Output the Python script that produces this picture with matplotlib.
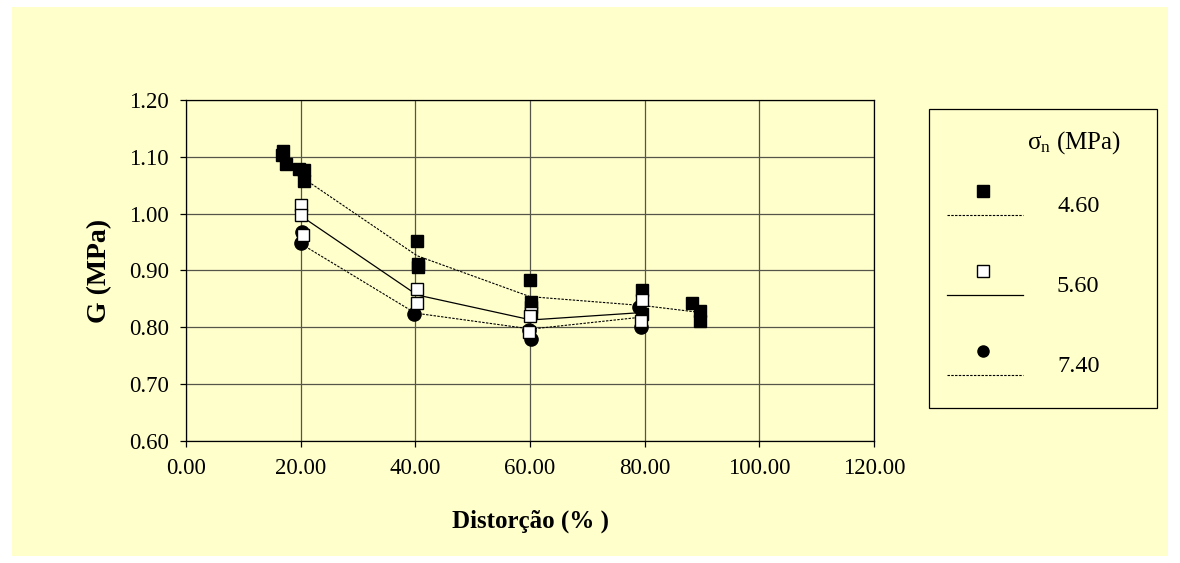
import matplotlib
matplotlib.use("Agg")
import matplotlib.pyplot as plt
from matplotlib.patches import Rectangle
from matplotlib.lines import Line2D

plt.rcParams['font.family'] = ['Liberation Serif', 'DejaVu Serif']
plt.rcParams['mathtext.fontset'] = 'custom'
plt.rcParams['mathtext.rm'] = 'Liberation Serif'

BG = '#FFFFCC'
GRID = '#55554a'

# G (MPa) x distorcao (%) per normal stress
dist_460 = [16.7, 16.9, 17.4, 19.7, 20.6, 20.6, 40.3, 40.4, 40.5, 60.0, 60.1, 60.2, 79.5, 79.6, 88.2, 89.6, 89.6]
g_460 = [1.103, 1.110, 1.087, 1.079, 1.077, 1.057, 0.952, 0.912, 0.906, 0.884, 0.845, 0.836, 0.865, 0.824, 0.842, 0.828, 0.812]

dist_560 = [20.0, 20.0, 20.4, 40.3, 40.3, 60.1, 60.0, 59.9, 79.5, 79.3]
g_560 = [1.015, 0.998, 0.962, 0.867, 0.842, 0.825, 0.820, 0.792, 0.848, 0.812]

dist_740 = [20.3, 20.0, 39.7, 59.8, 60.1, 79.0, 79.3]
g_740 = [0.968, 0.948, 0.823, 0.795, 0.780, 0.835, 0.801]

# mean curves
curve_x_460 = [17.3, 20.5, 40.3, 60.0, 80.0, 89.0]
curve_g_460 = [1.100, 1.062, 0.926, 0.854, 0.838, 0.827]
curve_x_560 = [20.2, 40.3, 60.2, 79.5]
curve_g_560 = [0.995, 0.857, 0.813, 0.826]
curve_x_740 = [20.2, 40.0, 60.2, 79.5]
curve_g_740 = [0.946, 0.825, 0.797, 0.818]

sigma_labels = ['4.60', '5.60', '7.40']

W, H = 1180, 563
fig = plt.figure(figsize=(W / 100, H / 100), dpi=100)
fig.patch.set_facecolor('white')
fig.patches.append(Rectangle((12 / W, 1 - 556 / H), 1156 / W, 549 / H,
                             transform=fig.transFigure, facecolor=BG,
                             edgecolor='none', zorder=-10))

ax = fig.add_axes([186 / W, 1 - 441 / H, 688 / W, 341 / H])
ax.set_facecolor(BG)

dash = (0, (2.2, 1.2))
ax.plot(curve_x_460, curve_g_460, color='black', lw=0.8, linestyle=dash, zorder=3)
ax.plot(curve_x_560, curve_g_560, color='black', lw=0.9, linestyle='-', zorder=3)
ax.plot(curve_x_740, curve_g_740, color='black', lw=0.8, linestyle=dash, zorder=3)

ax.plot(dist_460, g_460, 's', color='black', ms=9, mec='black', zorder=4)
ax.plot(dist_740, g_740, 'o', color='black', ms=9.5, mec='black', zorder=5)
ax.plot(dist_560, g_560, 's', mfc='white', ms=9, mec='black', mew=1.0, zorder=6)

ax.set_xlim(0, 120)
ax.set_ylim(0.60, 1.20)
ax.set_xticks(range(0, 121, 20))
ax.set_yticks([0.6, 0.7, 0.8, 0.9, 1.0, 1.1, 1.2])
ax.set_xticklabels([f'{v:.2f}' for v in range(0, 121, 20)])
ax.set_yticklabels([f'{v:.2f}' for v in [0.6, 0.7, 0.8, 0.9, 1.0, 1.1, 1.2]])
ax.grid(True, color=GRID, lw=0.9)
ax.set_axisbelow(True)
for s in ax.spines.values():
    s.set_color('black')
    s.set_linewidth(0.9)
ax.tick_params(axis='both', direction='out', length=4.5, width=0.9, labelsize=16.5)
ax.tick_params(axis='x', pad=8)
ax.tick_params(axis='y', pad=8)

ax.set_xlabel('Distorção (% )', fontsize=18, fontweight='bold')
ax.set_ylabel('G (MPa)', fontsize=20, fontweight='bold')
ax.xaxis.set_label_coords(0.5, -0.2)
ax.yaxis.set_label_coords(-0.107, 0.5)

# legend panel
fig.patches.append(Rectangle((929 / W, 1 - 408 / H), 228 / W, 299 / H,
                             transform=fig.transFigure, facecolor=BG,
                             edgecolor='black', lw=0.9))
fig.text(1027 / W, 1 - 143 / H, r'$\mathregular{σ_n}$ (MPa)', fontsize=18,
         ha='left', va='center')

styles = [
    dict(marker='s', mfc='black', mec='black', ls=dash, lw=0.8),
    dict(marker='s', mfc='white', mec='black', ls='-', lw=0.9),
    dict(marker='o', mfc='black', mec='black', ls=dash, lw=0.8),
]
for i, (lab, st) in enumerate(zip(sigma_labels, styles)):
    y0 = 191 + 80 * i
    fig.add_artist(Line2D([983 / W], [1 - y0 / H], marker=st['marker'],
                          mfc=st['mfc'], mec=st['mec'], ms=8, mew=1.0,
                          ls='none', transform=fig.transFigure))
    fig.add_artist(Line2D([947 / W, 1023 / W], [1 - (y0 + 24) / H] * 2,
                          color='black', ls=st['ls'], lw=st['lw'],
                          transform=fig.transFigure))
    fig.text(1057 / W, 1 - (y0 + 16) / H, lab, fontsize=17.5,
             ha='left', va='center')

fig.savefig('out.png', dpi=100, facecolor='white')
